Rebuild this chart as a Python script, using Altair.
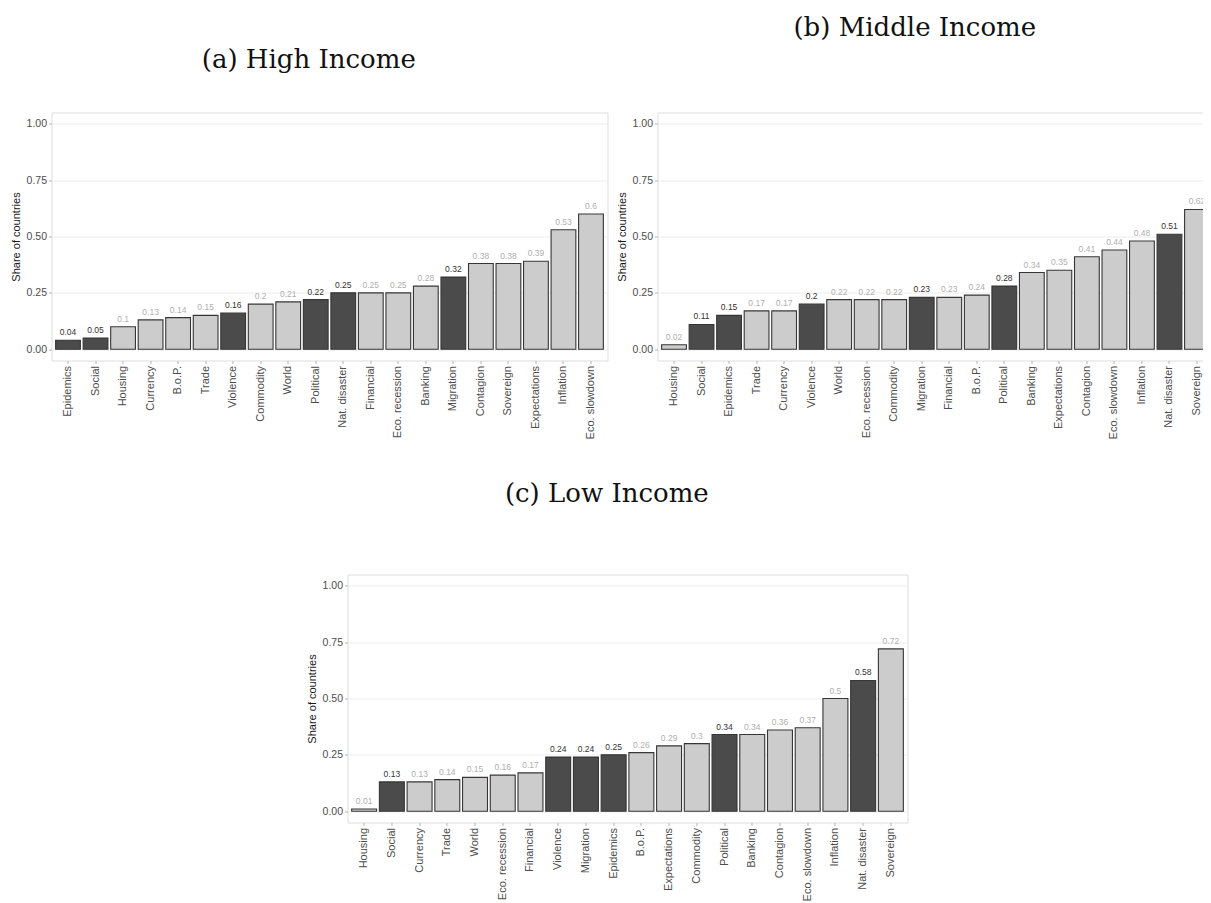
import altair as alt
import pandas as pd

# Non-economic shocks are drawn dark, economic ones light
DARK_CATS = ["Epidemics", "Social", "Violence", "Political", "Nat. disaster", "Migration"]

high_cats = ["Epidemics", "Social", "Housing", "Currency", "B.o.P.", "Trade", "Violence",
             "Commodity", "World", "Political", "Nat. disaster", "Financial", "Eco. recession",
             "Banking", "Migration", "Contagion", "Sovereign", "Expectations", "Inflation",
             "Eco. slowdown"]
high_vals = [0.04, 0.05, 0.10, 0.13, 0.14, 0.15, 0.16, 0.20, 0.21, 0.22, 0.25, 0.25, 0.25,
             0.28, 0.32, 0.38, 0.38, 0.39, 0.53, 0.60]

mid_cats = ["Housing", "Social", "Epidemics", "Trade", "Currency", "Violence", "World",
            "Eco. recession", "Commodity", "Migration", "Financial", "B.o.P.", "Political",
            "Banking", "Expectations", "Contagion", "Eco. slowdown", "Inflation",
            "Nat. disaster", "Sovereign"]
mid_vals = [0.02, 0.11, 0.15, 0.17, 0.17, 0.20, 0.22, 0.22, 0.22, 0.23, 0.23, 0.24, 0.28,
            0.34, 0.35, 0.41, 0.44, 0.48, 0.51, 0.62]

low_cats = ["Housing", "Social", "Currency", "Trade", "World", "Eco. recession", "Financial",
            "Violence", "Migration", "Epidemics", "B.o.P.", "Expectations", "Commodity",
            "Political", "Banking", "Contagion", "Eco. slowdown", "Inflation", "Nat. disaster",
            "Sovereign"]
low_vals = [0.01, 0.13, 0.13, 0.14, 0.15, 0.16, 0.17, 0.24, 0.24, 0.25, 0.26, 0.29, 0.30,
            0.34, 0.34, 0.36, 0.37, 0.50, 0.58, 0.72]

y_ticks = [0, 0.25, 0.5, 0.75, 1.0]

SANS = "Liberation Sans"
SERIF = "DejaVu Serif"


def panel(cats, vals, title, title_offset, width):
    df = pd.DataFrame({
        "cat": cats,
        "val": vals,
        "grp": ["Non-economic" if c in DARK_CATS else "Economic" for c in cats],
    })
    x_enc = alt.X(
        "cat:N", sort=cats, title=None,
        scale=alt.Scale(paddingInner=0.1, paddingOuter=0.15),
        axis=alt.Axis(labelAngle=-90, labelAlign="right", labelBaseline="middle",
                      labelFont=SANS, labelFontSize=11, labelColor="#4d4d4d",
                      labelPadding=2, tickSize=3, tickColor="#b3b3b3", domain=False,
                      grid=False, labelOverlap=False),
    )
    y_enc = alt.Y(
        "val:Q", title="Share of countries",
        scale=alt.Scale(domain=[-0.05, 1.05], nice=False, zero=False),
        axis=alt.Axis(values=y_ticks, format=".2f", labelFont=SANS, labelFontSize=10.5,
                      labelColor="#4d4d4d", labelPadding=2, tickSize=3,
                      tickColor="#b3b3b3", domain=False, grid=True,
                      gridColor="#ececec", gridWidth=1, titleFont=SANS,
                      titleFontSize=11, titleFontWeight="normal", titleColor="#1a1a1a",
                      titlePadding=5),
    )
    bars = alt.Chart(df).mark_bar(stroke="#363636", strokeWidth=1.1).encode(
        x=x_enc,
        y=y_enc,
        y2=alt.datum(0),
        fill=alt.Fill("grp:N", legend=None,
                      scale=alt.Scale(domain=["Non-economic", "Economic"],
                                      range=["#4b4b4b", "#cccccc"])),
    )
    labels = alt.Chart(df).mark_text(baseline="alphabetic", dy=-5, font=SANS,
                                     fontSize=8.5).encode(
        x=alt.X("cat:N", sort=cats),
        y=alt.Y("val:Q"),
        text=alt.Text("val:Q", format=".2~f"),
        color=alt.Color("grp:N", legend=None,
                        scale=alt.Scale(domain=["Non-economic", "Economic"],
                                        range=["#333333", "#b0b0b0"])),
    )
    return alt.layer(bars, labels).properties(
        width=width, height=248,
        title=alt.TitleParams(text=title, font=SERIF, fontSize=26, fontWeight="normal",
                              color="#111111", anchor="middle", frame="bounds",
                              baseline="alphabetic", offset=title_offset),
    )


panel_a = panel(high_cats, high_vals, "(a) High Income", 19, 556)
panel_b = panel(mid_cats, mid_vals, "(b) Middle Income", 51, 556)
panel_c = panel(low_cats, low_vals, "(c) Low Income", 46.5, 560)

spacer = alt.Chart(pd.DataFrame({"v": [0]})).mark_point(opacity=0).encode(
    x=alt.value(0), y=alt.value(0)
).properties(width=246, height=248, view=alt.ViewBackground(strokeOpacity=0))

top_row = alt.hconcat(panel_a, panel_b, spacing=50, bounds="flush")
bottom_row = alt.hconcat(spacer, panel_c, spacing=50, bounds="flush")

# negative right padding crops panel (b) at the page edge, as in the original
chart = alt.vconcat(top_row, bottom_row, spacing=462, bounds="flush").properties(
    padding={"left": 1.5, "top": 5.5, "right": -12, "bottom": 0}
).configure_view(stroke="#b3b3b3", strokeWidth=1).configure(background="white")

chart.save("out.html", embed_options={"renderer": "svg", "actions": False})
